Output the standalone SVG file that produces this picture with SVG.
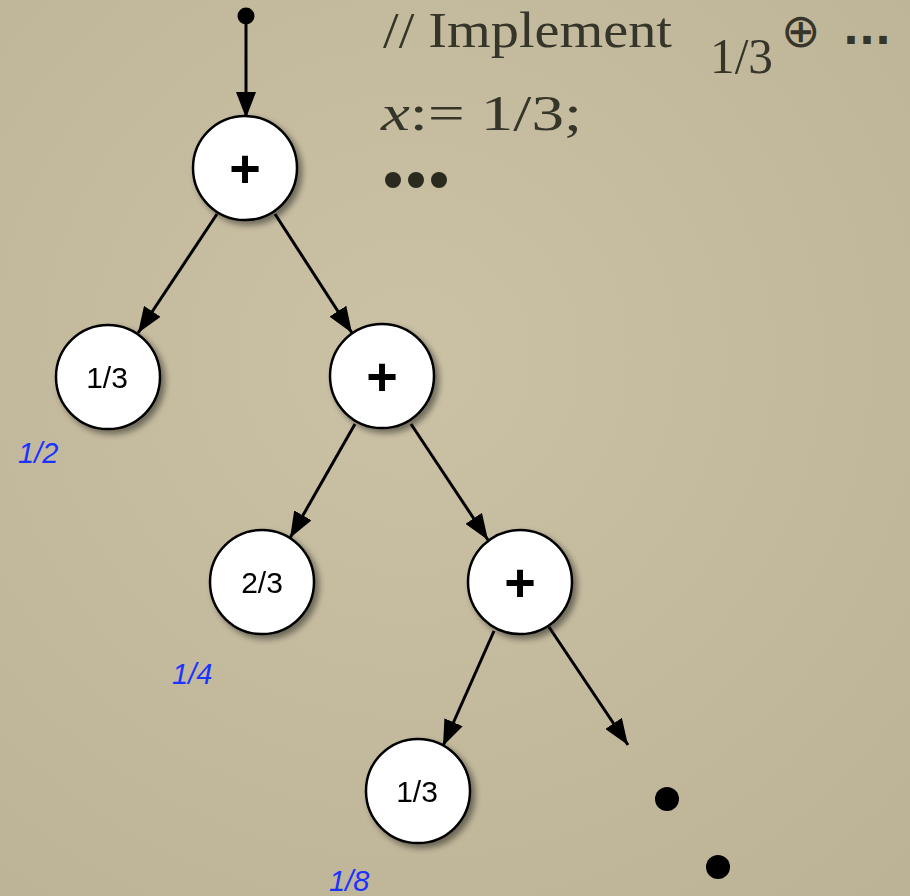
<svg xmlns="http://www.w3.org/2000/svg" width="910" height="896" viewBox="0 0 910 896">
<defs>
<radialGradient id="bg" cx="0.45" cy="0.4" r="0.8">
<stop offset="0" stop-color="#cbc2a6"/>
<stop offset="1" stop-color="#bcb295"/>
</radialGradient>
<filter id="sh" x="-30%" y="-30%" width="170%" height="170%">
<feDropShadow dx="4" dy="4" stdDeviation="3" flood-color="#000" flood-opacity="0.45"/>
</filter>
<marker id="ah" viewBox="0 0 26 20" refX="26" refY="10" markerWidth="26" markerHeight="20" markerUnits="userSpaceOnUse" orient="auto">
<path d="M0,0 L26,10 L0,20 z" fill="#000"/>
</marker>
<style>
.node circle{fill:#fff;stroke:#000;stroke-width:2.5;}
.plus{font-family:"Liberation Sans",Arial,sans-serif;font-size:54px;font-weight:bold;text-anchor:middle;fill:#000;}
.val{font-family:"Liberation Sans",Arial,sans-serif;font-size:30px;text-anchor:middle;fill:#000;}
.prob{font-family:"Liberation Sans",Arial,sans-serif;font-size:29px;font-style:italic;fill:#1a33ff;}
.code{font-family:"Liberation Serif","Times New Roman",serif;font-size:50px;fill:#36352a;}
.sym{font-family:"DejaVu Sans",sans-serif;fill:#36352a;}
#edges line{stroke:#000;stroke-width:3;marker-end:url(#ah);}
</style>
</defs>
<rect width="910" height="896" fill="url(#bg)"/>

<g id="code">
<text class="code" x="383" y="47" textLength="289" lengthAdjust="spacingAndGlyphs">// Implement</text>
<text class="code" x="710" y="73" textLength="63" lengthAdjust="spacingAndGlyphs">1/3</text>
<text class="sym" x="781" y="47" style="font-size:47px">⊕</text>
<text class="sym" x="843" y="44" style="font-size:42px;font-weight:bold">...</text>
<text class="code" x="381" y="130" textLength="201" lengthAdjust="spacingAndGlyphs"><tspan font-style="italic">x</tspan>:= 1/3;</text>
<g fill="#2a2a1e">
<circle cx="393" cy="180" r="8"/>
<circle cx="416" cy="180" r="8"/>
<circle cx="439" cy="180" r="8"/>
</g>
</g>

<g id="start"><circle cx="246" cy="16" r="8.5" fill="#000"/></g>

<g id="edges">
<line x1="246" y1="20" x2="246" y2="118"/>
<line x1="217" y1="214" x2="138" y2="333"/>
<line x1="275" y1="214" x2="352" y2="333"/>
<line x1="355" y1="424" x2="290" y2="538"/>
<line x1="411" y1="424" x2="488" y2="540"/>
<line x1="494" y1="631" x2="443" y2="746"/>
<line x1="549" y1="627" x2="628" y2="745"/>
</g>

<g id="n1" class="node" filter="url(#sh)"><circle cx="245" cy="168" r="52"/><text class="plus" x="245" y="187">+</text></g>
<g id="n2" class="node" filter="url(#sh)"><circle cx="108" cy="377" r="52"/><text class="val" x="107" y="388">1/3</text></g>
<g id="n3" class="node" filter="url(#sh)"><circle cx="382" cy="376" r="52"/><text class="plus" x="382" y="395">+</text></g>
<g id="n4" class="node" filter="url(#sh)"><circle cx="262" cy="582" r="52"/><text class="val" x="262" y="593">2/3</text></g>
<g id="n5" class="node" filter="url(#sh)"><circle cx="520" cy="582" r="52"/><text class="plus" x="520" y="601">+</text></g>
<g id="n6" class="node" filter="url(#sh)"><circle cx="418" cy="791" r="52"/><text class="val" x="417" y="802">1/3</text></g>

<g id="more">
<circle cx="667" cy="799" r="12" fill="#000"/>
<circle cx="718" cy="867" r="12" fill="#000"/>
</g>

<g id="probs">
<text class="prob" x="18" y="463">1/2</text>
<text class="prob" x="172" y="684">1/4</text>
<text class="prob" x="329" y="891">1/8</text>
</g>
</svg>
